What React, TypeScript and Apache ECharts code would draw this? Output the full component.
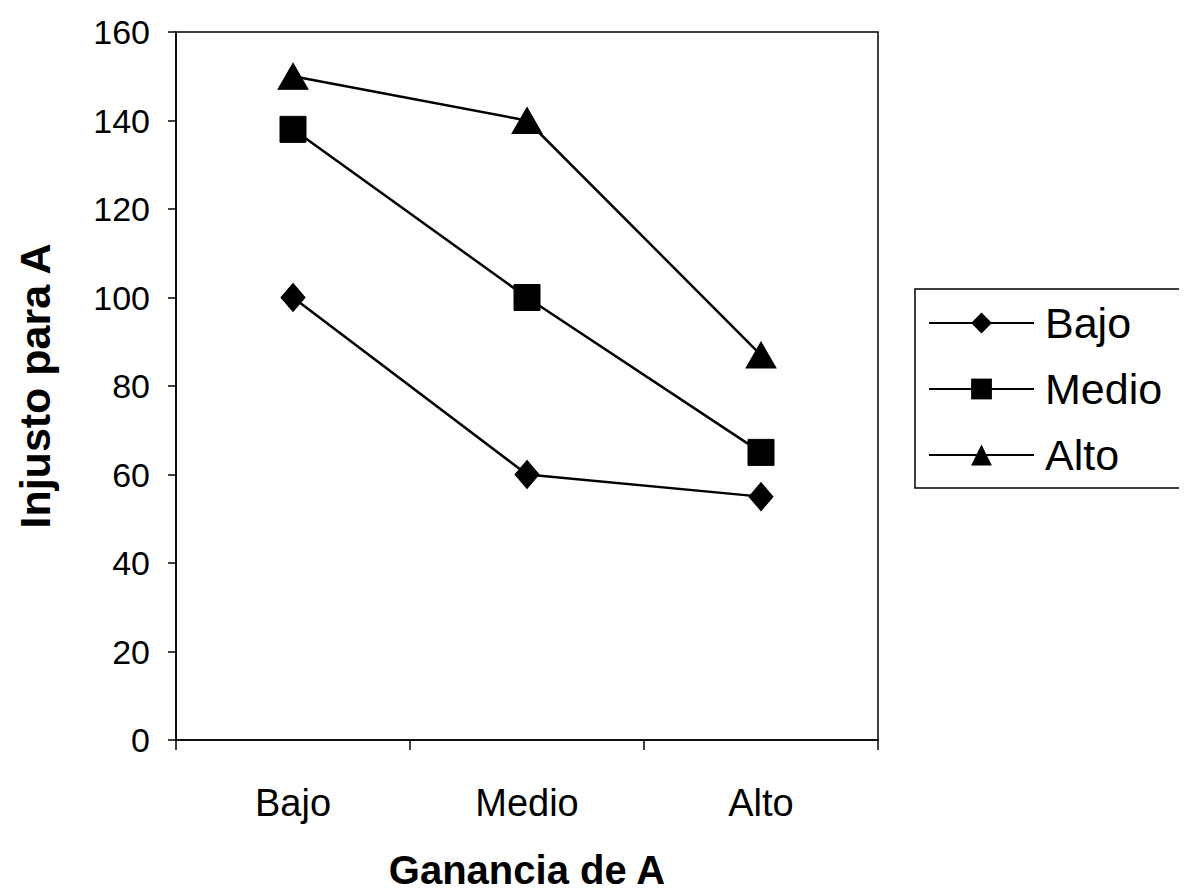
import React, { useEffect, useRef } from "react";
import * as echarts from "echarts";

const categories = ["Bajo", "Medio", "Alto"];
const seriesNames = ["Bajo", "Medio", "Alto"];
const bajoValues = [100, 60, 55];
const medioValues = [138, 100, 65];
const altoValues = [150, 140, 87];
const symbols = ["diamond", "rect", "triangle"];
const symbolSizes: any[] = [[24, 28], 26, [30, 26]];

export default function App() {
  const ref = useRef<HTMLDivElement>(null);
  useEffect(() => {
    if (!ref.current) return;
    const chart = echarts.init(ref.current, null, { renderer: "svg" });
    const values = [bajoValues, medioValues, altoValues];
    const font = "Liberation Sans, Arial, sans-serif";
    chart.setOption({
      animation: false,
      backgroundColor: "#ffffff",
      textStyle: { fontFamily: font, color: "#000" },
      grid: {
        left: 168,
        top: 24,
        width: 702,
        height: 708,
        show: true,
        borderColor: "#000",
        borderWidth: 1.5,
        outerBoundsMode: "none",
        containLabel: false,
      },
      legend: {
        orient: "vertical",
        left: 907,
        top: 281,
        padding: [11, 18, 10, 13],
        borderColor: "#000",
        borderWidth: 1.5,
        itemWidth: 105,
        itemHeight: 26,
        itemGap: 20,
        textStyle: { fontSize: 43, lineHeight: 46, color: "#000", fontFamily: font, padding: [0, 0, 0, 6] },
        data: seriesNames,
      },
      xAxis: {
        type: "category",
        data: categories,
        boundaryGap: true,
        axisLine: { lineStyle: { color: "#000", width: 1.5 } },
        axisTick: { show: true, length: 10, alignWithLabel: false, lineStyle: { color: "#000", width: 1.5 } },
        axisLabel: { fontSize: 38, color: "#000", margin: 44, fontFamily: font },
        name: "Ganancia de A",
        nameLocation: "middle",
        nameGap: 110,
        nameTextStyle: { fontSize: 40, lineHeight: 40, fontWeight: "bold", color: "#000", fontFamily: font },
      },
      yAxis: {
        type: "value",
        min: 0,
        max: 160,
        interval: 20,
        splitLine: { show: false },
        axisLine: { show: true, lineStyle: { color: "#000", width: 1.5 } },
        axisTick: { show: true, length: 8, lineStyle: { color: "#000", width: 1.5 } },
        axisLabel: { fontSize: 34, color: "#000", margin: 26, fontFamily: font },
        name: "Injusto para A",
        nameLocation: "middle",
        nameGap: 120,
        nameRotate: 90,
        nameTextStyle: { fontSize: 43, fontWeight: "bold", color: "#000", fontFamily: font },
      },
      series: seriesNames.map((name, i) => ({
        name,
        type: "line",
        data: values[i],
        symbol: symbols[i],
        symbolSize: symbolSizes[i],
        showAllSymbol: true,
        lineStyle: { color: "#000", width: 2.5 },
        itemStyle: { color: "#000", borderColor: "#000" },
      })),
    });
    return () => chart.dispose();
  }, []);
  return <div ref={ref} style={{ width: 1179, height: 887 }} />;
}
